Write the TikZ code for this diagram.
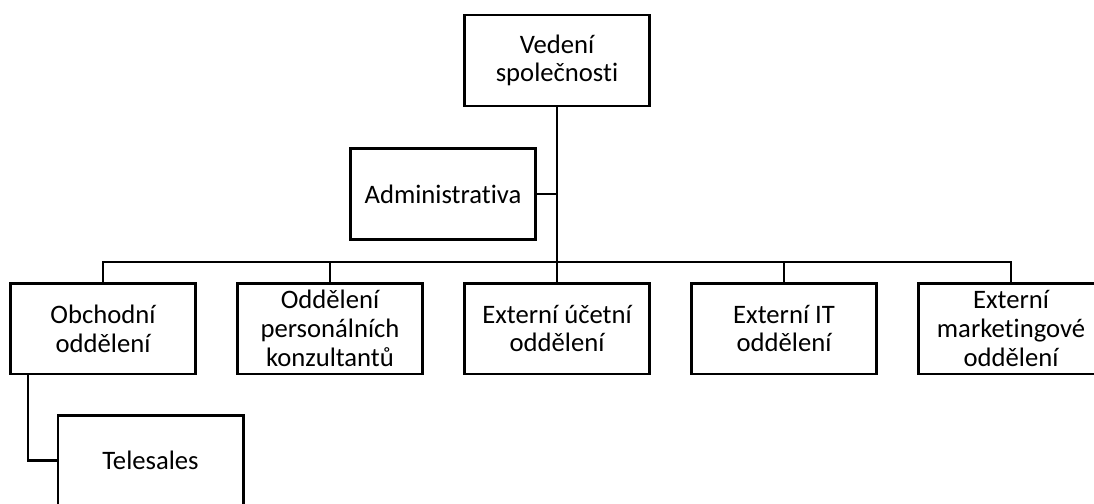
\documentclass[tikz,border=0pt]{standalone}
\usepackage{fontspec}
\setmainfont{Carlito}[Ligatures=NoCommon]
\begin{document}
\begin{tikzpicture}[x=0.75pt,y=-0.75pt,
  box/.style={draw=black,line width=2pt,fill=white,minimum width=139pt,minimum height=68pt,
    align=center,font=\fontsize{20}{21.5}\selectfont,inner sep=2pt},
  conn/.style={draw=black,line width=2pt}]
\useasboundingbox (0,0) rectangle (1094,503);
\clip (0,0) rectangle (1094,503);
\node[box] (top) at (557,60.5) {Vedení\\společnosti};
\node[box] (adm) at (443,194) {Administrativa};
\node[box] (b1) at (103,328.5) {Obchodní\\oddělení};
\node[box] (b2) at (330,328.5) {Oddělení\\personálních\\konzultantů};
\node[box] (b3) at (557,328.5) {Externí účetní\\oddělení};
\node[box] (b4) at (784,328.5) {Externí IT\\oddělení};
\node[box] (b5) at (1011,328.5) {Externí\\marketingové\\oddělení};
\node[box] (tel) at (150.5,460.5) {Telesales};
\coordinate (bus) at (557,262);
\coordinate (tk) at (28,375);
\draw[conn] (top.south) -- (b3.north);
\draw[conn] (adm.east) -- (adm.east -| top.south);
\draw[conn] (b1.north) |- (bus);
\draw[conn] (b2.north) |- (bus);
\draw[conn] (b4.north) |- (bus);
\draw[conn] (b5.north) |- (bus);
\draw[conn] (tk) |- (tel.west);
\end{tikzpicture}
\end{document}
